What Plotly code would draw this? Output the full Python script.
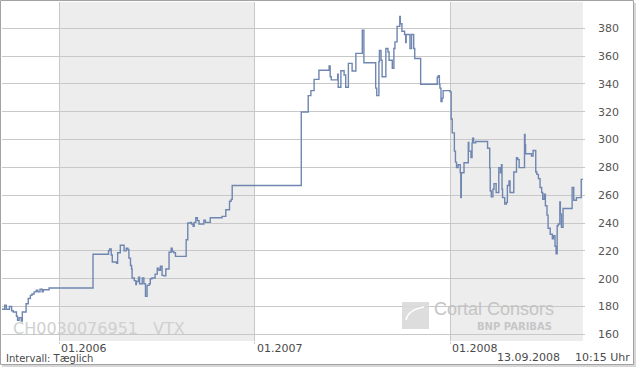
import plotly.graph_objects as go

# ---------------- data ----------------
dates = [
    "2005-09-15", "2005-09-21", "2005-09-24", "2005-09-30", "2005-10-04", "2005-10-07",
    "2005-10-13", "2005-10-15", "2005-10-18", "2005-10-22", "2005-10-24", "2005-10-31",
    "2005-11-04", "2005-11-08", "2005-11-11", "2005-11-15", "2005-11-19", "2005-11-22",
    "2005-11-26", "2005-11-30", "2005-12-02", "2005-12-13", "2006-03-05", "2006-04-03",
    "2006-04-05", "2006-04-08", "2006-04-10", "2006-04-18", "2006-04-20", "2006-04-25",
    "2006-05-02", "2006-05-06", "2006-05-09", "2006-05-11", "2006-05-14", "2006-05-16",
    "2006-05-17", "2006-05-21", "2006-05-24", "2006-05-25", "2006-05-29", "2006-05-31",
    "2006-06-05", "2006-06-08", "2006-06-11", "2006-06-14", "2006-06-18", "2006-06-20",
    "2006-06-23", "2006-06-29", "2006-07-03", "2006-07-06", "2006-07-09", "2006-07-12",
    "2006-07-15", "2006-07-19", "2006-07-25", "2006-07-29", "2006-07-31", "2006-08-03",
    "2006-08-06", "2006-08-26", "2006-08-29", "2006-09-03", "2006-09-05", "2006-09-08",
    "2006-09-10", "2006-09-13", "2006-09-16", "2006-09-19", "2006-09-28", "2006-10-01",
    "2006-10-10", "2006-11-01", "2006-11-08", "2006-11-15", "2006-11-18", "2006-11-20",
    "2007-03-29", "2007-04-11", "2007-04-16", "2007-04-22", "2007-05-01", "2007-05-20",
    "2007-05-22", "2007-05-24", "2007-06-05", "2007-06-06", "2007-06-11", "2007-06-17",
    "2007-06-20", "2007-06-25", "2007-07-02", "2007-07-09", "2007-07-21", "2007-07-24",
    "2007-08-15", "2007-08-17", "2007-08-21", "2007-08-22", "2007-08-25", "2007-08-27",
    "2007-09-03", "2007-09-07", "2007-09-09", "2007-09-15", "2007-09-18", "2007-09-20",
    "2007-09-24", "2007-09-29", "2007-09-30", "2007-10-03", "2007-10-08", "2007-10-10",
    "2007-10-11", "2007-10-18", "2007-10-21", "2007-10-25", "2007-10-27", "2007-11-07",
    "2007-12-08", "2007-12-10", "2007-12-12", "2007-12-13", "2007-12-15", "2007-12-17",
    "2007-12-19", "2008-01-01", "2008-01-03", "2008-01-05", "2008-01-09", "2008-01-11",
    "2008-01-13", "2008-01-16", "2008-01-20", "2008-01-21", "2008-01-22", "2008-01-27",
    "2008-02-04", "2008-02-05", "2008-02-09", "2008-02-11", "2008-02-12", "2008-02-14",
    "2008-02-18", "2008-03-11", "2008-03-15", "2008-03-16", "2008-03-18", "2008-03-21",
    "2008-03-23", "2008-03-27", "2008-04-01", "2008-04-04", "2008-04-06", "2008-04-07",
    "2008-04-08", "2008-04-12", "2008-04-15", "2008-04-17", "2008-04-20", "2008-04-22",
    "2008-04-29", "2008-05-04", "2008-05-06", "2008-05-09", "2008-05-19", "2008-05-20",
    "2008-05-21", "2008-06-01", "2008-06-04", "2008-06-09", "2008-06-11", "2008-06-14",
    "2008-06-17", "2008-06-20", "2008-06-22", "2008-06-25", "2008-06-27", "2008-06-30",
    "2008-07-02", "2008-07-06", "2008-07-10", "2008-07-12", "2008-07-15", "2008-07-17",
    "2008-07-19", "2008-07-21", "2008-07-24", "2008-07-25", "2008-07-27", "2008-07-30",
    "2008-08-16", "2008-08-19", "2008-08-24", "2008-09-02", "2008-09-05",
]
prices = [
    178.0, 181.0, 178.0, 180.0, 177.0, 176.0,
    173.0, 170.0, 172.0, 169.5, 176.0, 182.0,
    185.7, 188.0, 189.0, 190.5, 191.7, 190.5,
    192.4, 190.5, 192.0, 193.3, 217.6, 220.2,
    221.4, 217.0, 212.0, 211.0, 218.6, 224.0,
    220.0, 222.0, 221.0, 214.8, 209.5, 207.0,
    200.5, 198.6, 195.7, 198.0, 201.0, 196.4,
    200.5, 196.4, 187.4, 195.2, 196.4, 200.0,
    200.5, 203.3, 207.6, 206.0, 209.0, 202.4,
    202.0, 207.0, 219.0, 222.0, 219.5, 218.6,
    216.0, 228.0, 240.0, 240.5, 239.3, 237.6,
    240.5, 243.8, 241.7, 239.3, 242.0, 240.5,
    243.8, 244.8, 249.5, 255.7, 257.0, 267.0,
    319.8, 331.6, 335.2, 343.3, 349.8, 352.9,
    345.2, 342.9, 347.0, 337.6, 349.5, 346.4,
    337.6, 354.8, 349.3, 362.0, 378.6, 355.2,
    337.0, 331.6, 356.0, 364.0, 357.0, 345.2,
    365.5, 363.0, 357.0, 351.2, 365.5, 370.2,
    381.4, 388.6, 383.3, 377.9, 375.5, 369.8,
    375.5, 365.5, 375.5, 365.5, 358.3, 339.8,
    344.8, 346.0, 339.8, 337.0, 327.4, 329.8,
    335.2, 334.3, 314.8, 304.8, 291.7, 283.8,
    279.8, 282.0, 276.2, 258.3, 276.2, 283.3,
    298.0, 291.7, 287.0, 297.6, 301.0, 297.6,
    298.6, 293.8, 279.5, 263.0, 258.8, 264.3,
    268.3, 261.9, 279.8, 276.2, 282.0, 264.3,
    258.3, 253.6, 254.8, 267.0, 270.2, 261.9,
    276.7, 287.0, 285.7, 279.8, 303.6, 296.4,
    289.8, 288.1, 292.1, 276.7, 275.0, 271.9,
    265.5, 261.9, 257.1, 260.7, 252.4, 245.7,
    236.2, 231.9, 228.6, 230.9, 223.3, 217.9,
    238.0, 239.3, 255.2, 246.4, 236.9, 250.5,
    265.5, 256.4, 258.3, 271.4, 271.4,
]

y_ticks = [160, 180, 200, 220, 240, 260, 280, 300, 320, 340, 360, 380]
year_starts = ["2006-01-01", "2007-01-01", "2008-01-01"]
year_labels = ["01.2006", "01.2007", "01.2008"]
shaded_years = [("2006-01-01", "2007-01-01"), ("2008-01-01", "2008-09-05")]
isin_text = "CH0030076951"
ticker_text = "VTX"
interval_text = "Intervall: Tæglich"
date_text = "13.09.2008"
time_text = "10:15 Uhr"

# ---------------- layout helpers (pixel -> paper) ----------------
L, R, T, B = 2, 585, 2, 341
W, H = 640, 370


def px(x):
    return (x - L) / (R - L)


def py(y):
    return (B - y) / (B - T)


FONT = "DejaVu Sans, Verdana, sans-serif"
TXT = "#4a4a4a"

fig = go.Figure()
fig.add_trace(go.Scatter(
    x=dates, y=prices, mode="lines", line_shape="hv",
    line=dict(color="#6f86b1", width=1.4), hoverinfo="skip", showlegend=False,
))

shapes = []
# shadow + frame
shapes.append(dict(type="rect", xref="paper", yref="paper",
                   x0=px(2), x1=px(636), y0=py(367), y1=py(3),
                   fillcolor="#d6d6d6", line=dict(width=0), layer="below"))
shapes.append(dict(type="rect", xref="paper", yref="paper",
                   x0=px(0.5), x1=px(633.5), y0=py(364.5), y1=py(0.5),
                   fillcolor="white", line=dict(color="#a2a2a2", width=1), layer="below"))
for a, b in shaded_years:
    shapes.append(dict(type="rect", xref="x", yref="paper", x0=a, x1=b, y0=0, y1=1,
                       fillcolor="#ededed", line=dict(width=0), layer="below"))
# logo square
shapes.append(dict(type="rect", xref="paper", yref="paper",
                   x0=px(402), x1=px(429), y0=py(329), y1=py(302),
                   fillcolor="#d9d9d9", line=dict(width=0), layer="above", opacity=0.9))
shapes.append(dict(type="path", xref="paper", yref="paper",
                   path=f"M {px(406)},{py(320)} Q {px(408)},{py(310)} {px(424)},{py(307)}",
                   line=dict(color="white", width=1.5), layer="above"))

annotations = []
for d, lab in zip(year_starts, year_labels):
    annotations.append(dict(x=d, xref="x", y=py(348.5), yref="paper", text=lab,
                            xanchor="left", yanchor="middle", xshift=1, showarrow=False,
                            borderpad=0,
                            font=dict(family=FONT, size=11, color=TXT)))
annotations += [
    dict(x=px(5), y=py(358.5), text=interval_text, xanchor="left",
         font=dict(family=FONT, size=10, color=TXT)),
    dict(x=px(496), y=py(357), text=date_text, xanchor="left",
         font=dict(family=FONT, size=11, color=TXT)),
    dict(x=px(631), y=py(357), text=time_text, xanchor="right",
         font=dict(family=FONT, size=11, color=TXT)),
]
for a in annotations[-3:]:
    a.update(xref="paper", yref="paper", yanchor="middle", showarrow=False, borderpad=0)
annotations += [
    dict(x=px(11), y=py(328), xref="paper", yref="paper", text=isin_text,
         xanchor="left", yanchor="middle", showarrow=False,
         font=dict(family=FONT, size=16, color="#d0d0d0")),
    dict(x=px(151), y=py(328), xref="paper", yref="paper", text=ticker_text,
         xanchor="left", yanchor="middle", showarrow=False,
         font=dict(family=FONT, size=16, color="#d0d0d0")),
    dict(x=px(432), y=py(309), xref="paper", yref="paper", text="Cortal Consors",
         xanchor="left", yanchor="middle", showarrow=False,
         font=dict(family="Liberation Sans, Arial, sans-serif",
                   size=18, color="#c4c4c4")),
    dict(x=px(554), y=py(326), xref="paper", yref="paper", text="BNP PARIBAS",
         xanchor="right", yanchor="middle", showarrow=False,
         font=dict(family=FONT, size=10, color="#c6c6c6", weight="bold")),
]

fig.update_layout(
    width=W, height=H,
    margin=dict(l=L, r=W - R, t=T, b=H - B, pad=0),
    paper_bgcolor="white", plot_bgcolor="rgba(0,0,0,0)",
    shapes=shapes, annotations=annotations, showlegend=False,
    xaxis=dict(type="date", range=["2005-09-16", "2008-09-09"],
               tickvals=year_starts, showticklabels=False,
               showgrid=True, gridcolor="#c8c8c8", gridwidth=1,
               ticks="outside", ticklen=2, tickcolor="#c8c8c8",
               showline=False, zeroline=False, fixedrange=True),
    yaxis=dict(range=[155.2, 398.9], side="right", tickvals=y_ticks,
               showgrid=True, gridcolor="#c8c8c8", gridwidth=1,
               ticks="", ticklabelstandoff=12, showline=False, zeroline=False,
               tickfont=dict(family=FONT, size=11, color="#555555"), fixedrange=True),
)

fig.write_html("out.html", config={"displayModeBar": False})
